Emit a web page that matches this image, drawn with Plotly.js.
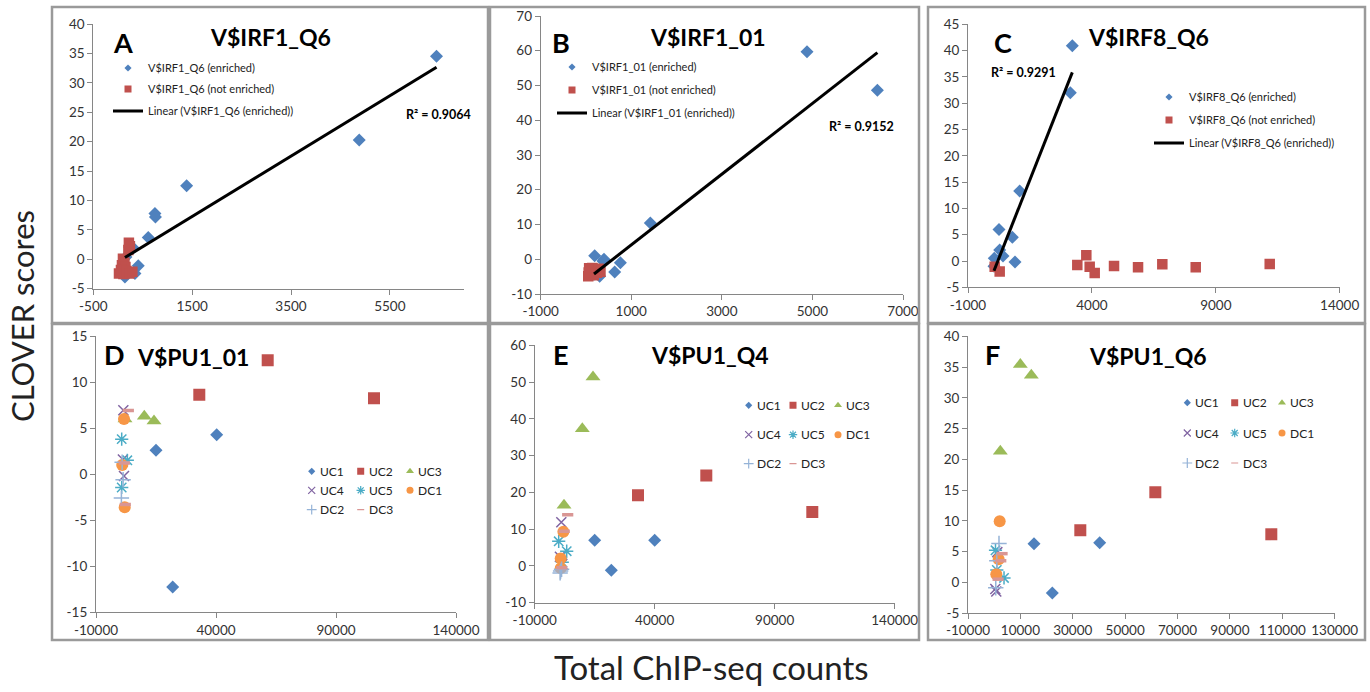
<!DOCTYPE html>
<html><head><meta charset="utf-8">
<script src="https://cdn.plot.ly/plotly-3.0.1.min.js"></script>
<style>html,body{margin:0;padding:0;background:#fff}#chart{width:1370px;height:692px}</style>
</head><body><div id="chart"></div>
<script>
// ---------------- DATA ----------------
// Panel A  V$IRF1_Q6
const aEnrX = [6444, 4880, 1388, 747, 757, 612, 409, 342, 308, 160, 140];
const aEnrY = [34.5, 20.3, 12.5, 7.8, 7.2, 3.7, -1.1, -2.4, 1.9, 0.4, -3.0];
const aNotX = [220, 240, 210, 100, 130, 80, 150, 20, 60, 110, 170, 230, 290];
const aNotY = [2.8, 2.2, 1.6, 0.1, -0.6, -1.0, -1.3, -2.4, -1.8, -2.5, -2.0, -2.4, -2.1];
// Panel B  V$IRF1_01
const bEnrX = [4880, 6434, 1421, 759, 634, 192, 398, 375, 302, 250, 177];
const bEnrY = [59.7, 48.6, 10.4, -1.0, -3.7, 1.0, 0.0, -0.5, -4.9, -3.0, -4.3];
const bNotX = [50, 70, 90, 110, 140, 170, 200, 240, 280, 320, 60];
const bNotY = [-4.9, -2.6, -4.2, -3.3, -2.5, -4.6, -3.0, -3.9, -2.7, -3.6, -3.8];
// Panel C  V$IRF8_Q6
const cEnrX = [3210, 3129, 1086, 251, 789, 897, 278, 413, 60, 49];
const cEnrY = [40.9, 32.0, 13.3, 6.0, 4.5, -0.2, 2.1, 0.95, 0.5, -1.0];
const cNotX = [77, 279, 3411, 3775, 3911, 4113, 4893, 5862, 6842, 8190, 11176];
const cNotY = [-1.1, -2.0, -0.75, 1.1, -1.1, -2.3, -0.95, -1.2, -0.6, -1.2, -0.55];
// Linear trendlines (enriched series)
const trendSlope = [0.00513, 0.01018, 0.01193];
const trendIntercept = [-0.42, -6.05, -2.43];
const r2Labels = ['R² = 0.9064', 'R² = 0.9152', 'R² = 0.9291'];
const topMotifs = ['V$IRF1_Q6', 'V$IRF1_01', 'V$IRF8_Q6'];
const bottomMotifs = ['V$PU1_01', 'V$PU1_Q4', 'V$PU1_Q6'];
const panelLetters = ['A', 'B', 'C', 'D', 'E', 'F'];
const clusters = ['UC1', 'UC2', 'UC3', 'UC4', 'UC5', 'DC1', 'DC2', 'DC3'];
// Panel D  V$PU1_01 (one list per cluster, in the order of `clusters`)
const dX = [[40278, 15000, 21958], [61542, 33042, 105833], [10125, 14167, 2083], [1389, 1667, 1200],
            [708, 3056, 708], [1667, 917, 1958], [583, 1300, 900], [3472, 2200, 1800]];
const dY = [[4.28, 2.59, -12.26], [12.36, 8.63, 8.23], [6.3, 5.76, 6.0], [6.93, -0.2, 1.6],
            [3.8, 1.5, -1.45], [6.0, 1.0, -3.6], [-2.6, -0.6, 1.3], [6.9, -3.3, 1.2]];
// Panel E  V$PU1_Q4
const eX = [[15000, 40000, 21917], [33042, 61500, 105667], [14292, 9833, 2208], [1083, 500, 1500],
            [0, 3333, 1500], [1944, 833, 833], [600, 1200, 800], [3750, 2300, 1300]];
const eY = [[6.96, 6.96, -1.2], [19.2, 24.6, 14.66], [51.4, 37.3, 16.5], [11.9, 2.5, 0.5],
            [6.7, 4.0, 1.0], [9.3, 2.0, -0.6], [-1.9, -0.9, -1.4], [13.9, 9.4, -0.5]];
// Panel F  V$PU1_Q6
const fX = [[15200, 40280, 22200], [32880, 61520, 105800], [9970, 14170, 2340], [420, 1200, 800],
            [3750, 500, 1000], [2100, 1720, 800], [1830, 1000, 600], [3000, 1500, 2500]];
const fY = [[6.27, 6.44, -1.74], [8.46, 14.63, 7.8], [35.4, 33.66, 21.3], [-1.1, 4.9, -1.5],
            [0.7, 5.2, 2.0], [9.92, 3.74, 1.3], [6.3, 3.5, -0.9], [4.65, 0.5, 3.5]];
// Tick values / labels
const xTicksA = [-500, 1500, 3500, 5500];
const yTicksA = [-5, 0, 5, 10, 15, 20, 25, 30, 35, 40];
const xTicksB = [-1000, 1000, 3000, 5000, 7000];
const yTicksB = [-10, 0, 10, 20, 30, 40, 50, 60, 70];
const xTicksC = [-1000, 4000, 9000, 14000];
const yTicksC = [-5, 0, 5, 10, 15, 20, 25, 30, 35, 40, 45];
const xTicksD = [-10000, 40000, 90000, 140000];
const yTicksD = [-15, -10, -5, 0, 5, 10, 15];
const xTicksE = [-10000, 40000, 90000, 140000];
const yTicksE = [-10, 0, 10, 20, 30, 40, 50, 60];
const xTicksF = [-10000, 10000, 30000, 50000, 70000, 90000, 110000, 130000];
const yTicksF = [-5, 0, 5, 10, 15, 20, 25, 30, 35, 40];

// ---------------- STYLE / LAYOUT ----------------
const W = 1370, H = 692;
const px = v => v / W, py = v => 1 - v / H;
const FONT = 'Lato, "Liberation Sans", sans-serif';
const BLUE = '#4F81BD', RED = '#C0504D';
const clusterStyle = [
  {symbol: 'diamond', size: 10, color: '#4F81BD', lw: 0, ls: 5.5},
  {symbol: 'square', size: 12, color: '#C0504D', lw: 0, ls: 7},
  {symbol: 'triangle-up', size: 13, color: '#9BBB59', lw: 0, ls: 7},
  {symbol: 'x-thin-open', size: 10, color: '#8064A2', lw: 1.5, ls: 7},
  {symbol: 'asterisk-open', size: 11, color: '#4BACC6', lw: 1.5, ls: 7},
  {symbol: 'circle', size: 12, color: '#F79646', lw: 0, ls: 7},
  {symbol: 'cross-thin-open', size: 11, color: '#95B3D7', lw: 1.5, ls: 7},
  {symbol: 'line-ew-open', size: 8, color: '#D99694', lw: 3.5, ls: 5}
];

// plot areas in pixels [x0, x1, yTop, yBottom]
const areas = [
  [93.3, 464, 24, 288.7],
  [540.7, 903, 16, 294],
  [968, 1339.7, 24.3, 287.3],
  [96, 456, 336, 612.3],
  [534.7, 894.7, 345.3, 602.7],
  [968, 1334.7, 336.3, 613]
];
const xr = [[-500, 7000], [-1000, 7000], [-1000, 14000], [-10000, 140000], [-10000, 140000], [-10000, 130000]];
const yr = [[-5, 40], [-10, 70], [-5, 45], [-15, 15], [-10, 60], [-5, 40]];
const xt = [xTicksA, xTicksB, xTicksC, xTicksD, xTicksE, xTicksF];
const yt = [yTicksA, yTicksB, yTicksC, yTicksD, yTicksE, yTicksF];

const layout = {
  width: W, height: H, margin: {l: 0, r: 0, t: 0, b: 0},
  paper_bgcolor: '#fff', plot_bgcolor: 'rgba(0,0,0,0)',
  font: {family: FONT, color: '#222'},
  showlegend: true, shapes: [], annotations: []
};
function axisCommon(tv) {
  return {
    tickvals: tv, ticktext: tv.map(String), tickmode: 'array',
    showline: true, linecolor: '#868686', linewidth: 1,
    ticks: 'outside', ticklen: 5, tickcolor: '#868686', tickwidth: 1,
    showgrid: false, zeroline: false, fixedrange: true,
    tickfont: {family: FONT, size: 13.5, color: '#333'}
  };
}
areas.forEach((a, i) => {
  const n = i === 0 ? '' : String(i + 1);
  layout['xaxis' + n] = Object.assign(axisCommon(xt[i]), {
    domain: [px(a[0]), px(a[1])], range: xr[i], anchor: 'y' + n});
  layout['yaxis' + n] = Object.assign(axisCommon(yt[i]), {
    domain: [py(a[3]), py(a[2])], range: yr[i], anchor: 'x' + n});
});

// panel frames
const frames = [[52, 7, 488, 323], [490, 7, 919, 323], [928, 7, 1365, 323],
                [52, 324, 488, 640], [490, 324, 919, 640], [928, 324, 1365, 640]];
frames.forEach(f => layout.shapes.push({type: 'rect', xref: 'paper', yref: 'paper',
  x0: px(f[0]), x1: px(f[2]), y0: py(f[3]), y1: py(f[1]), line: {color: '#9a9a9a', width: 2.5}}));

function ann(text, x, y, size, bold, extra) {
  layout.annotations.push(Object.assign({text: bold ? '<b>' + text + '</b>' : text,
    xref: 'paper', yref: 'paper', x: px(x), y: py(y), xanchor: 'center', yanchor: 'middle',
    showarrow: false, font: {family: FONT, size: size, color: '#000'}}, extra || {}));
}
const letterPos = [[123, 42], [561, 42], [1003, 42], [114, 355], [561, 355], [992, 355]];
const titlePos = [[270, 37], [708, 37], [1148, 37], [193, 357], [710, 355], [1148, 356]];
const r2Pos = [[439, 114], [861, 127], [1023, 72]];
panelLetters.forEach((l, i) => ann(l, letterPos[i][0], letterPos[i][1], 27, true));
topMotifs.concat(bottomMotifs).forEach((t, i) => ann(t, titlePos[i][0], titlePos[i][1], 23, true));
r2Labels.forEach((t, i) => ann(t, r2Pos[i][0], r2Pos[i][1], 12.5, true));
ann('CLOVER scores', 22, 316, 31, false, {textangle: -90, font: {family: FONT, size: 31, color: '#222'}});
ann('Total ChIP-seq counts', 711, 667, 33, false, {font: {family: FONT, size: 33, color: '#222'}});

// legends: one small legend box per entry, placed like the original entries
let legendCount = 0;
function newLegend(symX, rowY, fs) {
  legendCount++;
  const name = legendCount === 1 ? 'legend' : 'legend' + legendCount;
  layout[name] = {orientation: 'v', x: px(symX - 20), xanchor: 'left', y: py(rowY), yanchor: 'middle',
    bgcolor: 'rgba(0,0,0,0)', borderwidth: 0, itemsizing: 'trace',
    font: {family: FONT, size: fs, color: '#222'}, itemclick: false, itemdoubleclick: false};
  return name;
}

// ---------------- TRACES ----------------
const traces = [];
function legendEntry(name, lg, marker, xa, ya) {
  // legend-only key (no data) so the key symbol can be drawn small as in the original
  traces.push({type: 'scatter', mode: 'markers', x: [null], y: [null], xaxis: xa, yaxis: ya,
    name: name, legend: lg, marker: marker, hoverinfo: 'skip'});
}
const topSets = [[aEnrX, aEnrY, aNotX, aNotY], [bEnrX, bEnrY, bNotX, bNotY], [cEnrX, cEnrY, cNotX, cNotY]];
const topLegendSym = [[128, [68, 89, 111]], [572, [67, 90, 113]], [1169, [97, 120, 143]]];
topSets.forEach((s, i) => {
  const n = i === 0 ? '' : String(i + 1);
  const L = topLegendSym[i];
  const lg = L[1].map(y => newLegend(L[0], y, 11));
  traces.push({type: 'scatter', mode: 'markers', x: s[0], y: s[1], xaxis: 'x' + n, yaxis: 'y' + n,
    name: topMotifs[i] + ' (enriched)', showlegend: false,
    marker: {symbol: 'diamond', size: 10, color: BLUE}});
  traces.push({type: 'scatter', mode: 'markers', x: s[2], y: s[3], xaxis: 'x' + n, yaxis: 'y' + n,
    name: topMotifs[i] + ' (not enriched)', showlegend: false,
    marker: {symbol: 'square', size: 10.5, color: RED}});
  const x0 = Math.min(...s[0]), x1 = Math.max(...s[0]);
  traces.push({type: 'scatter', mode: 'lines', x: [x0, x1],
    y: [x0, x1].map(v => trendSlope[i] * v + trendIntercept[i]), xaxis: 'x' + n, yaxis: 'y' + n,
    name: 'Linear (' + topMotifs[i] + ' (enriched))', legend: lg[2],
    line: {color: '#000', width: 3}});
  legendEntry(topMotifs[i] + ' (enriched)', lg[0], {symbol: 'diamond', size: 5.5, color: BLUE}, 'x' + n, 'y' + n);
  legendEntry(topMotifs[i] + ' (not enriched)', lg[1], {symbol: 'square', size: 7, color: RED}, 'x' + n, 'y' + n);
});

// bottom panels: key symbols from the legend, labels placed right beside them
const botSets = [[dX, dY], [eX, eY], [fX, fY]];
const botKeySym = [[311.7, 360.7, 410], [748.7, 793, 838], [1187.3, 1234.7, 1282]];
const botKeyRows = [[471.3, 490.3, 509.7], [405.3, 434.7, 463.7], [402.7, 433, 463]];
botSets.forEach((s, p) => {
  const n = String(p + 4);
  clusters.forEach((c, k) => {
    const st = clusterStyle[k];
    traces.push({type: 'scatter', mode: 'markers', x: s[0][k], y: s[1][k], xaxis: 'x' + n, yaxis: 'y' + n,
      name: c, showlegend: false,
      marker: {symbol: st.symbol, size: st.size, color: st.color, line: {color: st.color, width: st.lw}}});
  });
  clusters.forEach((c, k) => {
    const st = clusterStyle[k];
    const sx = botKeySym[p][k % 3], sy = botKeyRows[p][Math.floor(k / 3)];
    const lg = newLegend(sx, sy, 11.5);
    legendEntry(' ', lg, {symbol: st.symbol, size: st.ls, color: st.color,
      line: {color: st.color, width: Math.min(st.lw, 1.2) || 0}}, 'x' + n, 'y' + n);
    layout.annotations.push({text: c, xref: 'paper', yref: 'paper', x: px(sx + 6), y: py(sy),
      xanchor: 'left', yanchor: 'middle', showarrow: false,
      font: {family: FONT, size: 12, color: '#222'}});
  });
});

Plotly.newPlot('chart', traces, layout, {staticPlot: true, displayModeBar: false});
</script></body></html>
